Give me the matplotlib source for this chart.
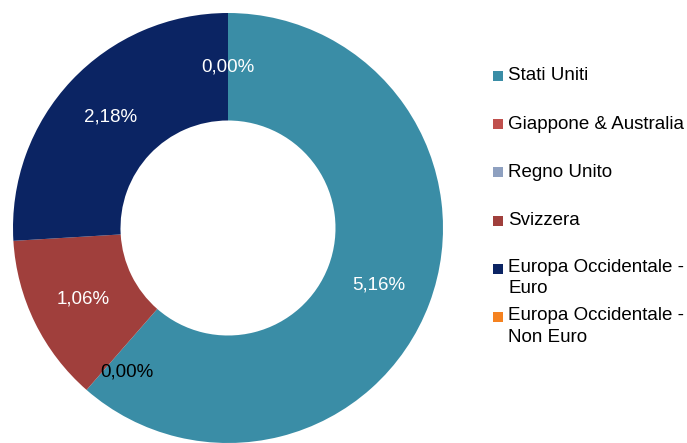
import numpy as np
import matplotlib
matplotlib.use("Agg")
import matplotlib.pyplot as plt
from matplotlib.patches import Rectangle

plt.rcParams["font.family"] = ["Liberation Sans", "DejaVu Sans"]

# data
categories = [
    "Stati Uniti",
    "Giappone & Australia",
    "Regno Unito",
    "Svizzera",
    "Europa Occidentale -\nEuro",
    "Europa Occidentale -\nNon Euro",
]
values = [5.16, 0.00, 0.00, 1.06, 2.18, 0.00]
colors = ["#3a8da6", "#c0504d", "#8ea0c0", "#a03f3c", "#0b2463", "#f58220"]
label_colors = ["white", "black", None, "white", "white", "white"]
label_radius = [0.75, 0.82, 0.82, 0.75, 0.75, 0.75]

W, H = 687, 443
fig = plt.figure(figsize=(W / 100, H / 100), dpi=100)
fig.patch.set_facecolor("white")

cx, cy, R = 228, 228, 215
ax = fig.add_axes([(cx - R) / W, (H - cy - R) / H, 2 * R / W, 2 * R / H])
wedges, _ = ax.pie(
    values, colors=colors, startangle=90, counterclock=False,
    radius=1.0, wedgeprops=dict(width=0.5, edgecolor="none"),
)
ax.set_xlim(-1, 1)
ax.set_ylim(-1, 1)
ax.set_aspect("equal")
ax.axis("off")

for w, v, c, r in zip(wedges, values, label_colors, label_radius):
    if c is None:
        continue
    ang = np.deg2rad((w.theta1 + w.theta2) / 2)
    if v == 0 and c == "black":
        ang = np.deg2rad(w.theta1 + 6)
    txt = f"{v:.2f}%".replace(".", ",")
    ax.text(r * np.cos(ang), r * np.sin(ang), txt, ha="center", va="center",
            color=c, fontsize=13.5)

# legend drawn by hand so two-line entries keep the same row pitch
y0, pitch = 76, 48.2
for i, (lab, col) in enumerate(zip(categories, colors)):
    y = y0 + i * pitch
    fig.patches.append(Rectangle((493 / W, (H - y - 5) / H), 10 / W, 10 / H,
                                 transform=fig.transFigure, facecolor=col,
                                 edgecolor="none"))
    if "\n" in lab:
        fig.text(508 / W, (H - y + 10) / H, lab, ha="left", va="top",
                 fontsize=13.5, color="black", linespacing=1.35)
    else:
        fig.text(508 / W, (H - y) / H, lab, ha="left", va="center",
                 fontsize=13.5, color="black")

fig.savefig("out.png", dpi=100, facecolor="white")
plt.close(fig)
